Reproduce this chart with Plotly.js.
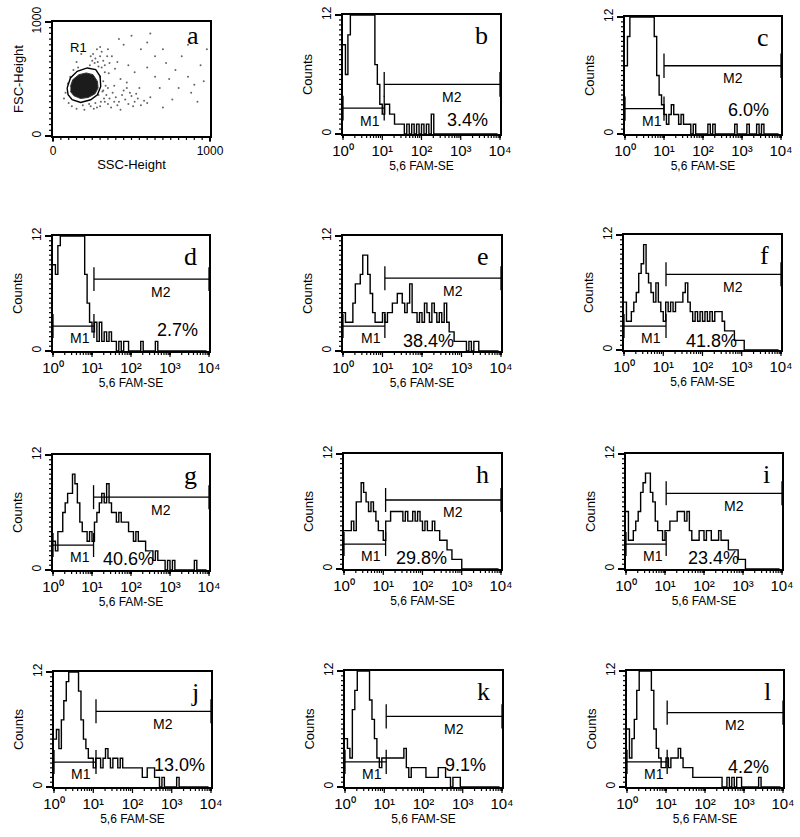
<!DOCTYPE html>
<html><head><meta charset="utf-8">
<script src="https://cdn.plot.ly/plotly-3.0.1.min.js"></script>
<style>html,body{margin:0;padding:0;background:#fff}#chart{width:800px;height:837px}</style>
</head><body><div id="chart"></div>
<script>
// ---------- Panel a: FSC vs SSC dot plot ----------
const scatterSSC = [240,255,270,285,300,310,265,290,320,330,350,345,280,300,360,250,235,375,395,410,330,355,
  320,340,360,380,400,420,440,460,480,500,520,540,560,580,600,620,350,370,390,410,430,450,470,490,510,530,330,300,280,260,240,200,150,120,100,350,390,550,
  450,500,560,600,650,700,720,780,820,860,900,940,880,800,760,700,650,600,520,480,430,470,680,740,920,960,150,180,420,620,860,980,
  310,320,335,300,290,315,325,305,70,80,95,110,130,160,190,230,270];
const scatterFSC = [700,720,680,650,700,740,640,610,660,620,760,700,760,780,640,660,620,700,590,650,560,550,
  400,360,330,380,340,300,360,320,280,350,300,330,270,310,290,340,280,250,300,270,230,400,420,380,260,370,300,260,250,240,260,230,240,260,290,420,440,420,
  800,880,760,820,700,760,640,580,700,520,450,620,380,420,320,250,520,600,560,620,500,470,420,500,300,480,650,720,850,900,800,760,
  600,480,440,520,360,390,330,300,330,380,460,520,580,600,270,280,290];
const coreSSC = [111,126,165,212,255,283,287,268,225,176,133,111];
const coreFSC = [435,494,538,553,538,479,421,371,338,329,353,391];
const gateSSC = [90,111,154,218,272,300,304,283,240,176,122,96,90];
const gateFSC = [421,509,568,597,582,524,435,362,318,294,318,362,421];

// ---------- Panels b-l: 5,6 FAM-SE histograms (16 channels per decade, 10^0..10^4) ----------
const panelLetters = ['b','c','d','e','f','g','h','i','j','k','l'];
const counts_b = [9,6,10,12,12,12,12,12,12,12,12,12,12,7,5,3,2,3,3,2,2,1,1,1,1,0,1,0,1,0,1,0,1,0,1,0,2,
  0,0,0,0,0,0,0,0,0,0,0,0,0,0,0,0,0,0,0,0,0,0,0,0,0,0,0];
const counts_c = [7,10,12,12,12,12,12,12,12,12,12,12,10,6,4,3,2,1,2,3,2,2,1,2,1,1,1,0,1,0,0,0,0,0,1,0,1,
  0,0,0,0,0,0,0,0,1,0,0,0,0,1,0,0,0,1,0,1,0,0,0,0,0,0,0];
const counts_d = [9,8,11,12,12,12,12,12,12,12,12,12,12,8,5,3,2,3,1,3,1,2,1,2,1,1,0,1,0,1,1,0,0,0,0,0,1,
  0,0,0,0,0,1,0,0,0,0,0,0,0,0,0,0,0,0,0,0,0,0,0,0,0,0,0];
const counts_e = [4,3,3,3,5,7,7,8,10,10,8,6,4,3,3,3,4,3,4,4,5,5,6,6,5,4,5,7,4,4,3,4,3,5,4,3,5,4,3,4,
  3,5,3,2,2,1,1,1,1,1,0,1,0,1,1,0,0,0,0,0,0,0,0,0];
const counts_f = [5,3,3,4,5,6,8,9,11,8,7,6,5,7,5,4,3,5,4,5,4,5,5,5,6,7,5,4,3,4,3,4,3,4,3,4,3,4,4,4,
  3,2,2,2,2,1,1,1,1,0,0,0,0,0,0,0,0,0,0,0,0,0,0,0];
const counts_g = [3,2,4,4,6,7,8,8,10,9,7,5,4,4,3,4,3,5,6,7,8,7,9,7,6,6,5,6,5,5,5,4,4,3,4,3,3,3,2,2,
  2,1,2,1,1,1,0,1,0,1,0,0,0,0,0,0,0,0,1,0,0,0,0,0];
const counts_h = [4,4,4,5,4,7,7,9,8,7,6,7,6,5,4,4,3,5,5,6,6,6,6,6,5,6,5,5,6,5,6,5,4,5,4,4,5,4,4,3,
  3,3,2,2,1,1,1,1,0,0,0,0,0,0,0,0,0,0,0,0,0,0,0,0];
const counts_i = [6,3,3,4,5,6,8,9,10,10,8,7,5,4,4,3,4,4,5,5,5,6,6,6,5,6,4,3,3,3,4,4,3,4,4,3,3,3,4,3,
  3,3,2,2,2,2,1,1,1,0,0,0,0,0,0,0,0,0,0,0,0,0,0,0];
const counts_j = [5,6,4,7,9,11,12,12,12,12,10,7,5,4,3,3,2,3,3,2,3,4,3,2,3,3,2,3,2,2,2,2,2,2,2,2,1,1,2,2,
  2,1,1,0,1,0,0,0,0,0,1,0,0,0,0,0,0,0,0,0,0,0,0,0];
const counts_k = [5,4,3,8,10,12,12,12,12,12,9,7,5,3,2,3,3,3,3,3,3,3,3,3,4,2,1,2,2,2,2,2,2,1,1,1,1,1,2,2,
  2,1,1,0,1,1,1,0,0,0,0,0,0,0,0,0,0,0,0,0,0,0,0,0];
const counts_l = [6,3,5,7,10,12,12,12,12,12,10,6,4,3,2,2,3,2,3,3,3,4,3,2,2,2,2,1,1,1,1,1,1,1,1,1,1,1,1,0,
  0,1,0,1,0,1,1,0,0,0,0,0,0,0,1,0,0,0,0,0,0,0,0,0];
const histCounts = [counts_b,counts_c,counts_d,counts_e,counts_f,counts_g,counts_h,counts_i,counts_j,counts_k,counts_l];

// Gate markers (x in decades, y in counts)
const gateBoundary = [1.05,1.0,1.05,1.06,1.07,1.04,1.06,1.03,1.07,1.05,1.03];
const m1Level = [2.6,2.6,2.6,2.6,2.5,2.6,2.6,2.6,2.6,2.6,2.6];
const m2Level = [5.0,7.0,7.5,7.6,7.9,7.6,7.2,7.9,7.9,7.3,7.7];
const percentM2 = ['3.4%','6.0%','2.7%','38.4%','41.8%','40.6%','29.8%','23.4%','13.0%','9.1%','4.2%'];
const decadeLabels = ['10\u2070','10\u00B9','10\u00B2','10\u00B3','10\u2074'];

// ---------- layout ----------
const W = 800, H = 837;
const FONT = 'Arial, "Liberation Sans", sans-serif';
const SERIF = '"Times New Roman", "Liberation Serif", serif';
const boxes = [
  [53,210,22,136],
  [343,500,15,134],[625,781,17,134],
  [53,209,236,351],[343,501,236,351],[624,781,235,350],
  [53,209,455,570],[344,501,454,569],[626,782,454,569],
  [54,211,672,787],[345,502,671,787],[627,783,671,787]
];
const pctPos = [[3.17,1.4],[3.17,2.5],[3.2,2.2],[2.16,1.0],[2.23,0.9],[1.94,1.1],[1.97,1.1],[2.24,1.1],[3.2,2.3],[3.06,2.3],[3.12,2.1]];

function dom(b){ return {x:[b[0]/W, b[1]/W], y:[1-b[3]/H, 1-b[2]/H]}; }
const baseAxis = {showline:true, linecolor:'#000', linewidth:1.6, mirror:true, ticks:'outside',
  tickcolor:'#000', tickwidth:1.2, ticklen:6, showgrid:false, zeroline:false, fixedrange:true,
  automargin:false, tickfont:{family:FONT, size:12, color:'#000'}};

const logMinor = [];
for (let n=0;n<4;n++) for (let k=2;k<10;k++) logMinor.push(n+Math.log10(k));
const countMinor = [];
for (let v=0.5; v<12; v+=0.5) countMinor.push(v);
const linMinor = [];
for (let v=50; v<1000; v+=50) linMinor.push(v);

const data = [], shapes = [], annotations = [];
const layout = {width:W, height:H, margin:{l:0,r:0,t:0,b:0}, showlegend:false,
  paper_bgcolor:'#fff', plot_bgcolor:'#fff', font:{family:FONT, color:'#000'}, shapes, annotations};

// tick marks drawn as unclipped axis-domain shapes (position = fraction of the axis range)
const tickLine = {color:'#000', width:1.2};
function addTicks(xa, ya, xr, yr, xMaj, xMin, yMaj, yMin){
  const fx = v => (v - xr[0]) / (xr[1] - xr[0]);
  const fy = v => (v - yr[0]) / (yr[1] - yr[0]);
  [[xMaj,6],[xMin,4]].forEach(([vals,len]) => vals.forEach(v => shapes.push({type:'line',
    xref:xa+' domain', yref:ya+' domain', ysizemode:'pixel', yanchor:0,
    x0:fx(v), x1:fx(v), y0:0, y1:-len, line:tickLine, layer:'above'})));
  [[yMaj,6],[yMin,4]].forEach(([vals,len]) => vals.forEach(v => shapes.push({type:'line',
    xref:xa+' domain', yref:ya+' domain', xsizemode:'pixel', xanchor:0,
    x0:0, x1:-len, y0:fy(v), y1:fy(v), line:tickLine, layer:'above'})));
}

// Panel a
const da = dom(boxes[0]);
layout.xaxis = Object.assign({}, baseAxis, {domain:da.x, anchor:'y', range:[0,1000], tickmode:'array',
  tickvals:[0,1000], ticktext:['0','1000'], ticklen:3,
  title:{text:'SSC-Height', font:{family:FONT, size:13, color:'#000'}, standoff:3}});
layout.yaxis = Object.assign({}, baseAxis, {domain:da.y, anchor:'x', range:[0,1000], tickmode:'array',
  tickvals:[0,1000], ticktext:['0','1000'], tickangle:-90,
  title:{text:'FSC-Height', font:{family:FONT, size:13, color:'#000'}, standoff:3}});
data.push({type:'scatter', mode:'markers', x:scatterSSC, y:scatterFSC, xaxis:'x', yaxis:'y',
  marker:{size:2, color:'#666'}, hoverinfo:'skip'});
data.push({type:'scatter', mode:'lines', x:coreSSC, y:coreFSC, xaxis:'x', yaxis:'y', fill:'toself',
  fillcolor:'#1c1c1c', line:{width:1, color:'#333'}, hoverinfo:'skip'});
data.push({type:'scatter', mode:'lines', x:gateSSC, y:gateFSC, xaxis:'x', yaxis:'y',
  line:{width:1.4, color:'#000'}, hoverinfo:'skip'});
addTicks('x', 'y', [0,1000], [0,1000], [0,1000], linMinor, [0,1000], linMinor);
annotations.push({xref:'x', yref:'y', x:165, y:774, text:'R1', showarrow:false,
  font:{family:FONT, size:13, color:'#000'}});
annotations.push({xref:'x', yref:'y', x:940, y:880, xanchor:'right', text:'a', showarrow:false,
  font:{family:SERIF, size:26, color:'#000'}});

// Histogram panels
histCounts.forEach((counts, p) => {
  const n = p + 2;
  const xa = 'x'+n, ya = 'y'+n;
  const d = dom(boxes[p+1]);
  layout['xaxis'+n] = Object.assign({}, baseAxis, {domain:d.x, anchor:ya, range:[0,4], tickmode:'array',
    tickvals:[0,1,2,3,4], ticktext:decadeLabels, ticklen:2,
    tickfont:{family:FONT, size:15, color:'#000'},
    title:{text:'5,6 FAM-SE', font:{family:FONT, size:12, color:'#000'}, standoff:1}});
  layout['yaxis'+n] = Object.assign({}, baseAxis, {domain:d.y, anchor:xa, range:[0,12], tickmode:'array',
    tickvals:[0,12], ticktext:['0','12'], tickangle:-90,
    title:{text:'Counts', font:{family:FONT, size:13, color:'#000'}, standoff:4}});
  data.push({type:'scatter', mode:'lines', x0:0, dx:1/16, y:counts, xaxis:xa, yaxis:ya,
    line:{shape:'hv', color:'#000', width:1.4}, hoverinfo:'skip'});
  addTicks(xa, ya, [0,4], [0,12], [0,1,2,3,4], logMinor, [0,12], countMinor);

  const gb = gateBoundary[p], y1 = m1Level[p], y2 = m2Level[p], tk = 1.25;
  const ln = {color:'#000', width:1.3};
  const seg = (x0,y0,x1,y1b) => shapes.push({type:'line', xref:xa, yref:ya, x0, y0, x1, y1:y1b, line:ln});
  seg(0,y1,gb,y1); seg(gb,y1-tk,gb,y1+tk); seg(0,y1-tk,0,y1+tk);
  seg(gb,y2,4,y2); seg(gb,y2-tk,gb,y2+tk); seg(4,y2-tk,4,y2+tk);

  annotations.push({xref:xa, yref:ya, x:0.7, y:y1-1.25, text:'M1', showarrow:false,
    font:{family:FONT, size:14, color:'#000'}});
  annotations.push({xref:xa, yref:ya, x:2.78, y:y2-1.3, text:'M2', showarrow:false,
    font:{family:FONT, size:14, color:'#000'}});
  annotations.push({xref:xa, yref:ya, x:pctPos[p][0], y:pctPos[p][1], text:percentM2[p], showarrow:false,
    font:{family:FONT, size:18, color:'#000'}});
  annotations.push({xref:xa, yref:ya, x:3.75, y:9.9, xanchor:'right', text:panelLetters[p], showarrow:false,
    font:{family:SERIF, size:26, color:'#000'}});
});

Plotly.newPlot('chart', data, layout, {staticPlot:true, displayModeBar:false});
</script></body></html>
